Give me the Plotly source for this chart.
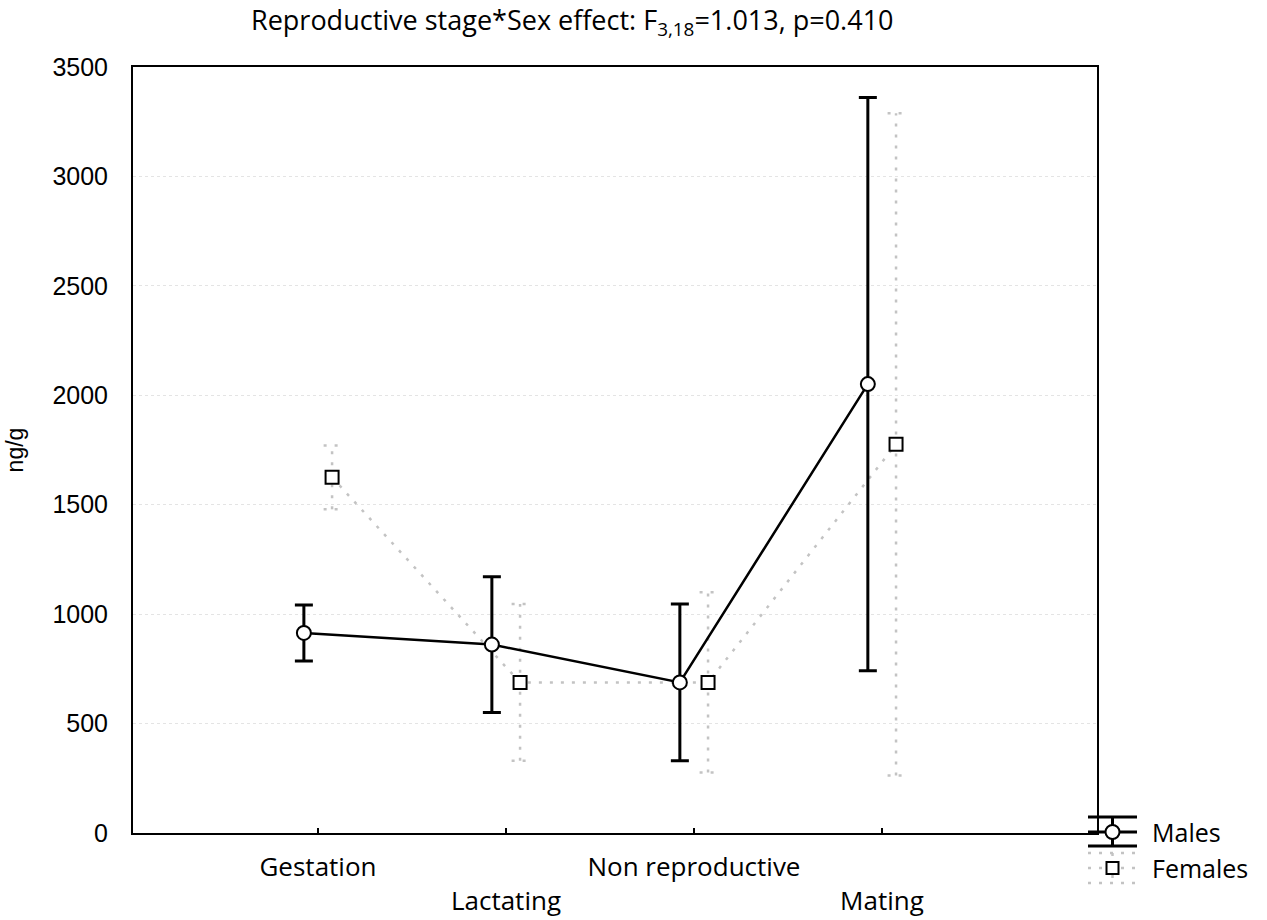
import plotly.graph_objects as go

# Category labels and group means with error half-widths (ng/g)
categories = ["Gestation", "Lactating", "Non reproductive", "Mating"]
males_mean = [914, 861, 688, 2051]
males_err = [128, 310, 358, 1310]
females_mean = [1625, 688, 688, 1776]
females_err = [146, 358, 412, 1513]

y_ticks = [0, 500, 1000, 1500, 2000, 2500, 3000, 3500]
title_text = "Reproductive stage*Sex effect: F<sub>3,18</sub>=1.013, p=0.410"
y_title = "ng/g"

# layout geometry
W, H = 1267, 920
ML, MR, MT, MB = 133, 170, 67, 87
PW, PH = W - ML - MR, H - MT - MB
X_RANGE = [-0.984, 4.144]
OFFSET = 0.075
CAP_HALF = 0.045

TEXT_FONT = "Open Sans"
NUM_FONT = "Liberation Sans, Arial"
GREY = "#c3c3c3"
DOTS = "3px,8px"


def px_x(p):
    return (p - ML) / PW


def px_y(p):
    return (H - MB - p) / PH


pos = list(range(len(categories)))
mx = [p - OFFSET for p in pos]
fx = [p + OFFSET for p in pos]

fig = go.Figure()

# Females: dotted grey whiskers built from the means and errors
ex, ey = [], []
for x, m, e in zip(fx, females_mean, females_err):
    lo, hi = m - e, m + e
    ex += [x, x, None, x - CAP_HALF, x + CAP_HALF, None, x - CAP_HALF, x + CAP_HALF, None]
    ey += [lo, hi, None, hi, hi, None, lo, lo, None]
fig.add_trace(go.Scatter(x=ex, y=ey, mode="lines", showlegend=False, hoverinfo="skip",
                         line=dict(color=GREY, width=2.5, dash=DOTS)))
fig.add_trace(go.Scatter(x=fx, y=females_mean, mode="lines", name="Females", showlegend=False,
                         line=dict(color=GREY, width=2.5, dash=DOTS)))

# Males: solid line with error bars
fig.add_trace(go.Scatter(
    x=mx, y=males_mean, mode="lines+markers", name="Males", showlegend=False,
    line=dict(color="black", width=2.5),
    marker=dict(symbol="circle", size=14, color="white", line=dict(color="black", width=2)),
    error_y=dict(type="data", array=males_err, visible=True, color="black", thickness=3, width=9),
))

fig.add_trace(go.Scatter(x=fx, y=females_mean, mode="markers", showlegend=False, hoverinfo="skip",
                         marker=dict(symbol="square", size=13, color="white",
                                     line=dict(color="black", width=2))))

# stagger the category labels across two rows
ticktext = [c if i % 2 == 0 else "<br>" + c for i, c in enumerate(categories)]

fig.update_layout(
    width=W, height=H,
    margin=dict(l=ML, r=MR, t=MT, b=MB),
    paper_bgcolor="white", plot_bgcolor="white",
    showlegend=False,
    xaxis=dict(range=X_RANGE, tickvals=pos, ticktext=ticktext, ticks="inside", ticklen=5,
               tickwidth=1.5, tickcolor="black", showgrid=False, zeroline=False,
               showline=True, linecolor="black", linewidth=2, mirror=True, automargin=False,
               tickfont=dict(family=TEXT_FONT, size=26, color="black"), ticklabelstandoff=10),
    yaxis=dict(range=[0, 3500], tickvals=y_ticks, ticks="", showgrid=True,
               gridcolor="#e4e4e4", griddash="dot", gridwidth=1, zeroline=False,
               showline=True, linecolor="black", linewidth=2, mirror=True, automargin=False,
               tickfont=dict(family=NUM_FONT, size=25, color="black"), ticklabelstandoff=18,
               title=dict(text=y_title, font=dict(family=NUM_FONT, size=23, color="black"),
                          standoff=22)),
    xaxis2=dict(range=X_RANGE, overlaying="x", side="top", anchor="y", tickvals=pos,
                ticks="inside", ticklen=5, tickwidth=1.5, tickcolor="black", automargin=False,
                showticklabels=False, showgrid=False, zeroline=False, showline=False),
    yaxis2=dict(range=[0, 9], dtick=1, overlaying="y", side="right", anchor="x",
                ticks="inside", ticklen=8, tickwidth=1.5, tickcolor="black", automargin=False,
                showticklabels=False, showgrid=False, zeroline=False, showline=False),
)

fig.add_annotation(text=title_text, xref="paper", yref="paper", x=px_x(572), y=px_y(21),
                   xanchor="center", yanchor="middle", showarrow=False,
                   font=dict(family=TEXT_FONT, size=27, color="black"))

# hand-built legend in the lower right corner
lx0, lx1, lxc = px_x(1088), px_x(1137), px_x(1112.5)
for yy in (817, 832, 846):
    fig.add_shape(type="line", xref="paper", yref="paper", x0=lx0, x1=lx1, y0=px_y(yy), y1=px_y(yy),
                  line=dict(color="black", width=3))
fig.add_shape(type="line", xref="paper", yref="paper", x0=lxc, x1=lxc, y0=px_y(817), y1=px_y(846),
              line=dict(color="black", width=3))
fig.add_shape(type="circle", xref="paper", yref="paper", x0=px_x(1105.5), x1=px_x(1119.5),
              y0=px_y(825), y1=px_y(839), fillcolor="white", line=dict(color="black", width=2))
for yy in (853, 868, 883):
    fig.add_shape(type="line", xref="paper", yref="paper", x0=lx0, x1=lx1, y0=px_y(yy), y1=px_y(yy),
                  line=dict(color=GREY, width=2.5, dash=DOTS))
fig.add_shape(type="line", xref="paper", yref="paper", x0=lxc, x1=lxc, y0=px_y(853), y1=px_y(883),
              line=dict(color=GREY, width=2.5, dash=DOTS))
fig.add_shape(type="rect", xref="paper", yref="paper", x0=px_x(1106.5), x1=px_x(1118.5),
              y0=px_y(862), y1=px_y(874), fillcolor="white", line=dict(color="black", width=2))
for name, yy in (("Males", 832), ("Females", 868)):
    fig.add_annotation(text=name, xref="paper", yref="paper", x=px_x(1150), y=px_y(yy),
                       xanchor="left", yanchor="middle", showarrow=False,
                       font=dict(family=TEXT_FONT, size=25, color="black"))

fig.write_html("out.html")
